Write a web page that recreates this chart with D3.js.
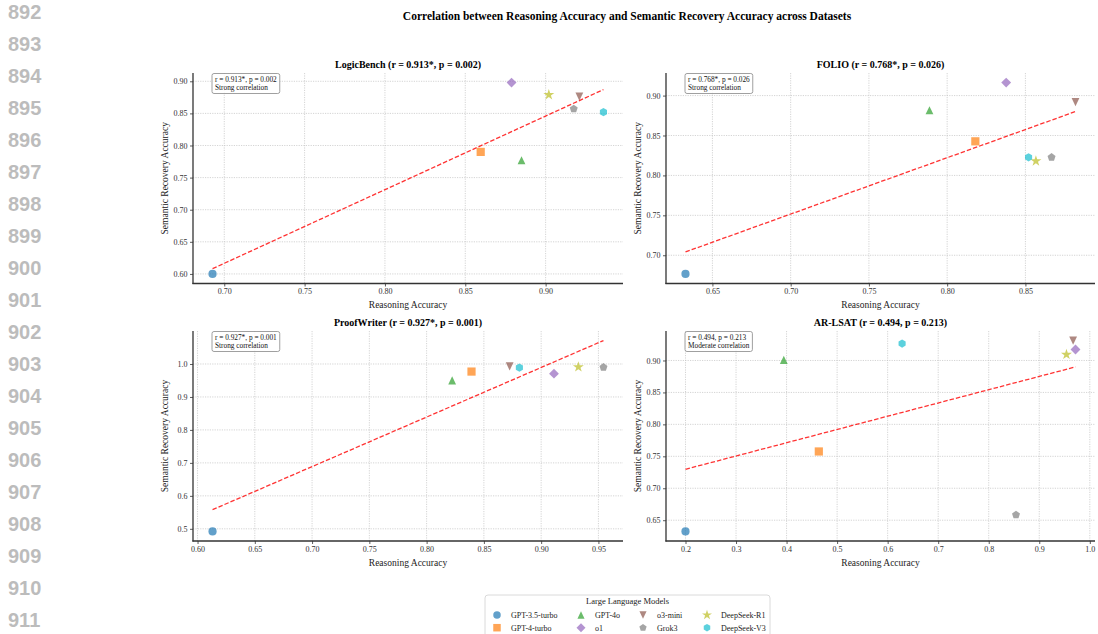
<!DOCTYPE html>
<html>
<head>
<meta charset="utf-8">
<script src="https://cdn.jsdelivr.net/npm/d3@7"></script>
<style>
  body { margin: 0; background: #fff; }
  svg { display: block; }
</style>
</head>
<body>
<div id="vis"></div>
<script>
// models, in legend order
const models = ['GPT-3.5-turbo', 'GPT-4-turbo', 'GPT-4o', 'o1', 'o3-mini', 'Grok3', 'DeepSeek-R1', 'DeepSeek-V3'];
const modelColors = ['#1f77b4', '#ff7f0e', '#2ca02c', '#9467bd', '#8c564b', '#7f7f7f', '#bcbd22', '#17becf'];
const modelShapes = ['circle', 'square', 'triangle', 'diamond', 'triangleDown', 'pentagon', 'star', 'hexagon'];

// reasoning accuracy (x) / semantic recovery accuracy (y), model order as above
const logicbenchX = [0.6927, 0.8596, 0.885, 0.8788, 0.921, 0.9175, 0.902, 0.936];
const logicbenchY = [0.600, 0.790, 0.777, 0.898, 0.876, 0.857, 0.879, 0.852];
const folioX = [0.6328, 0.818, 0.7887, 0.8377, 0.882, 0.8667, 0.8567, 0.852];
const folioY = [0.6766, 0.8427, 0.8816, 0.9163, 0.8917, 0.8227, 0.818, 0.8227];
const proofwriterX = [0.6131, 0.8392, 0.8223, 0.9112, 0.8725, 0.9544, 0.9325, 0.881];
const proofwriterY = [0.492, 0.977, 0.950, 0.9707, 0.993, 0.990, 0.991, 0.989];
const arlsatX = [0.200, 0.4638, 0.3945, 0.9717, 0.967, 0.854, 0.9538, 0.6286];
const arlsatY = [0.6324, 0.7576, 0.901, 0.9172, 0.9312, 0.6583, 0.9094, 0.9265];

const datasetNames = ['LogicBench', 'FOLIO', 'ProofWriter', 'AR-LSAT'];
const statTexts = ['r = 0.913*, p = 0.002', 'r = 0.768*, p = 0.026', 'r = 0.927*, p = 0.001', 'r = 0.494, p = 0.213'];
const strengthTexts = ['Strong correlation', 'Strong correlation', 'Strong correlation', 'Moderate correlation'];

// tick labels
const logicbenchXTicks = [0.70, 0.75, 0.80, 0.85, 0.90];
const logicbenchYTicks = [0.60, 0.65, 0.70, 0.75, 0.80, 0.85, 0.90];
const folioXTicks = [0.65, 0.70, 0.75, 0.80, 0.85];
const folioYTicks = [0.70, 0.75, 0.80, 0.85, 0.90];
const proofwriterXTicks = [0.60, 0.65, 0.70, 0.75, 0.80, 0.85, 0.90, 0.95];
const proofwriterYTicks = [0.5, 0.6, 0.7, 0.8, 0.9, 1.0];
const arlsatXTicks = [0.2, 0.3, 0.4, 0.5, 0.6, 0.7, 0.8, 0.9, 1.0];
const arlsatYTicks = [0.65, 0.70, 0.75, 0.80, 0.85, 0.90];

const lineNumbers = d3.range(892, 912);

const panels = [
  { x: logicbenchX, y: logicbenchY, xt: logicbenchXTicks, yt: logicbenchYTicks, xf: '.2f', yf: '.2f' },
  { x: folioX, y: folioY, xt: folioXTicks, yt: folioYTicks, xf: '.2f', yf: '.2f' },
  { x: proofwriterX, y: proofwriterY, xt: proofwriterXTicks, yt: proofwriterYTicks, xf: '.2f', yf: '.1f' },
  { x: arlsatX, y: arlsatY, xt: arlsatXTicks, yt: arlsatYTicks, xf: '.1f', yf: '.2f' }
];

const W = 1098, H = 634;
const serif = '"Liberation Serif", "Times New Roman", serif';

const svg = d3.select('#vis').append('svg')
  .attr('width', W).attr('height', H)
  .style('background', '#fff');

// marker paths
function poly(n, r, rot) {
  const pts = d3.range(n).map(k => {
    const a = rot + k * 2 * Math.PI / n;
    return [r * Math.sin(a), -r * Math.cos(a)];
  });
  return 'M' + pts.map(p => p.join(',')).join('L') + 'Z';
}
function markerPath(shape, s) {
  const r = s / 2;
  switch (shape) {
    case 'circle': return d3.symbol(d3.symbolCircle, Math.PI * r * r)();
    case 'square': return `M${-r},${-r}H${r}V${r}H${-r}Z`;
    case 'triangle': return `M0,${-r}L${r * 0.95},${r}L${-r * 0.95},${r}Z`;
    case 'triangleDown': return `M0,${r}L${r * 0.95},${-r}L${-r * 0.95},${-r}Z`;
    case 'diamond': return poly(4, r * 1.2, 0);
    case 'pentagon': return poly(5, r * 1.02, 0);
    case 'hexagon': return poly(6, r, 0);
    case 'star': return d3.symbol(d3.symbolStar, r * r * 2.2)();
  }
}

// line numbers in the margin
svg.append('g').selectAll('text').data(lineNumbers).join('text')
  .attr('x', 8)
  .attr('y', (d, i) => 19 + i * 32)
  .attr('font-family', '"Liberation Sans", Arial, sans-serif')
  .attr('font-weight', 'bold')
  .attr('font-size', 20)
  .attr('fill', '#bcbcbc')
  .text(d => d);

// main title
svg.append('text')
  .attr('x', 627).attr('y', 20)
  .attr('text-anchor', 'middle')
  .attr('font-family', serif).attr('font-weight', 'bold').attr('font-size', 11.5)
  .text('Correlation between Reasoning Accuracy and Semantic Recovery Accuracy across Datasets');

const cols = [{ left: 193, right: 623 }, { left: 666, right: 1095 }];
const rows = [{ top: 73, bottom: 283.5 }, { top: 331, bottom: 541 }];

panels.forEach((p, i) => {
  const c = cols[i % 2], r = rows[Math.floor(i / 2)];
  const g = svg.append('g');

  // least-squares fit
  const mx = d3.mean(p.x), my = d3.mean(p.y);
  const slope = d3.sum(p.x, (v, k) => (v - mx) * (p.y[k] - my)) / d3.sum(p.x, v => (v - mx) * (v - mx));
  const xe = d3.extent(p.x);
  const fit = xe.map(v => [v, my + slope * (v - mx)]);
  const ye = d3.extent(p.y.concat(fit.map(d => d[1])));
  const pad = e => { const d = (e[1] - e[0]) * 0.05; return [e[0] - d, e[1] + d]; };

  const x = d3.scaleLinear().domain(pad(xe)).range([c.left, c.right]);
  const y = d3.scaleLinear().domain(pad(ye)).range([r.bottom, r.top]);

  // grid
  g.append('g').selectAll('line').data(p.xt).join('line')
    .attr('x1', d => x(d)).attr('x2', d => x(d))
    .attr('y1', r.top).attr('y2', r.bottom);
  g.append('g').selectAll('line').data(p.yt).join('line')
    .attr('x1', c.left).attr('x2', c.right)
    .attr('y1', d => y(d)).attr('y2', d => y(d));
  g.selectAll('line')
    .attr('stroke', '#c2c2c2').attr('stroke-width', 0.7)
    .attr('stroke-dasharray', '1.2,1.2');

  // axes
  const xa = g.append('g')
    .attr('transform', `translate(0,${r.bottom})`)
    .call(d3.axisBottom(x).tickValues(p.xt).tickFormat(d3.format(p.xf)).tickSize(3).tickSizeOuter(0).tickPadding(2));
  const ya = g.append('g')
    .attr('transform', `translate(${c.left},0)`)
    .call(d3.axisLeft(y).tickValues(p.yt).tickFormat(d3.format(p.yf)).tickSize(3).tickSizeOuter(0).tickPadding(2.5));
  [xa, ya].forEach(a => {
    a.attr('font-family', serif).attr('font-size', 8);
    a.selectAll('text').attr('fill', '#333');
    a.selectAll('.tick line').attr('stroke', '#333').attr('stroke-width', 0.8);
    a.select('.domain').attr('stroke', '#333').attr('stroke-width', 1.3);
  });
  xa.select('.domain').attr('d', `M${c.left - 0.6},0H${c.right}`);
  ya.select('.domain').attr('d', `M0,${r.top}V${r.bottom + 0.6}`);

  // points
  g.append('g').selectAll('path').data(models).join('path')
    .attr('transform', (d, k) => `translate(${x(p.x[k])},${y(p.y[k])})`)
    .attr('d', (d, k) => markerPath(modelShapes[k], 8.2))
    .attr('fill', (d, k) => modelColors[k])
    .attr('fill-opacity', 0.7);

  // regression line
  g.append('path')
    .datum(fit)
    .attr('fill', 'none')
    .attr('stroke', 'red')
    .attr('stroke-opacity', 0.8)
    .attr('stroke-width', 1.3)
    .attr('stroke-dasharray', '4.5,2')
    .attr('d', d3.line().x(d => x(d[0])).y(d => y(d[1])));

  // stat box
  const box = g.append('g');
  const rect = box.append('rect');
  const t1 = box.append('text').attr('x', c.left + 22).attr('y', r.top + 8.5).text(statTexts[i]);
  const t2 = box.append('text').attr('x', c.left + 22).attr('y', r.top + 16.8).text(strengthTexts[i]);
  box.selectAll('text').attr('font-family', serif).attr('font-size', 7.3).attr('fill', '#111');
  const tw = Math.max(t1.node().getComputedTextLength(), t2.node().getComputedTextLength());
  rect.attr('x', c.left + 19).attr('y', r.top + 0.5)
    .attr('width', tw + 6).attr('height', 20)
    .attr('rx', 2)
    .attr('fill', '#fff').attr('fill-opacity', 0.8)
    .attr('stroke', '#888').attr('stroke-width', 0.8);

  // titles
  g.append('text')
    .attr('x', (c.left + c.right) / 2).attr('y', r.top - 5.5)
    .attr('text-anchor', 'middle')
    .attr('font-family', serif).attr('font-weight', 'bold').attr('font-size', 10)
    .text(`${datasetNames[i]} (${statTexts[i]})`);
  g.append('text')
    .attr('x', (c.left + c.right) / 2).attr('y', r.bottom + 24.5)
    .attr('text-anchor', 'middle')
    .attr('font-family', serif).attr('font-size', 9.5).attr('fill', '#222')
    .text('Reasoning Accuracy');
  g.append('text')
    .attr('transform', `translate(${c.left - 25.5},${(r.top + r.bottom) / 2}) rotate(-90)`)
    .attr('text-anchor', 'middle')
    .attr('font-family', serif).attr('font-size', 9.5).attr('fill', '#222')
    .text('Semantic Recovery Accuracy');
});

// legend
const leg = svg.append('g');
leg.append('rect')
  .attr('x', 485).attr('y', 595).attr('width', 285).attr('height', 50)
  .attr('rx', 3)
  .attr('fill', '#fff').attr('stroke', '#d0d0d0').attr('stroke-width', 0.8);
leg.append('text')
  .attr('x', 627.5).attr('y', 604)
  .attr('text-anchor', 'middle')
  .attr('font-family', serif).attr('font-size', 8.5).attr('fill', '#222')
  .text('Large Language Models');
const legCols = [497, 581, 643, 707];
const legRows = [615, 627.7];
const item = leg.selectAll('g.item').data(models).join('g')
  .attr('class', 'item')
  .attr('transform', (d, k) => `translate(${legCols[Math.floor(k / 2)]},${legRows[k % 2]})`);
item.append('path')
  .attr('d', (d, k) => markerPath(modelShapes[k], 7.5))
  .attr('fill', (d, k) => modelColors[k])
  .attr('fill-opacity', 0.7);
item.append('text')
  .attr('x', 14).attr('y', 2.8)
  .attr('font-family', serif).attr('font-size', 8).attr('fill', '#222')
  .text(d => d);
</script>
</body>
</html>
